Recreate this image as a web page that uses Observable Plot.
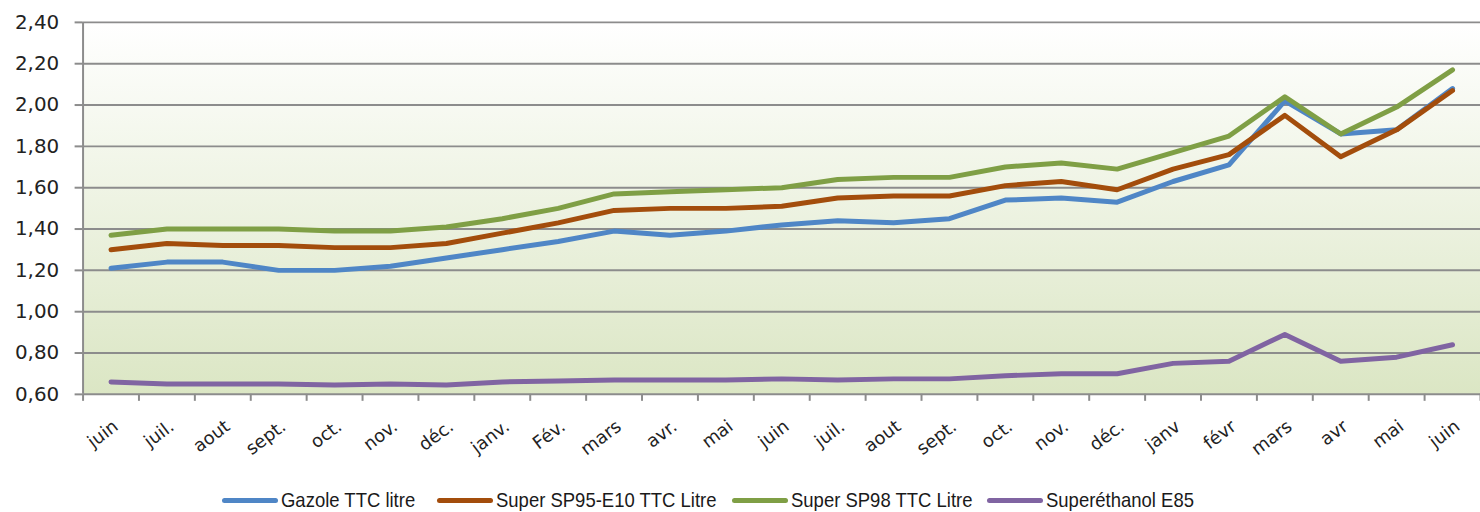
<!DOCTYPE html>
<html>
<head>
<meta charset="utf-8">
<script src="https://cdn.jsdelivr.net/npm/d3@7"></script>
<script src="https://cdn.jsdelivr.net/npm/@observablehq/plot@0.6"></script>
<style>
  html, body { margin: 0; padding: 0; background: #fff; overflow: hidden; }
  #wrap { position: relative; width: 1480px; height: 512px; overflow: hidden; }
  #legend { position: absolute; top: 488px; left: 0; width: 1480px; height: 24px; font-family: "Liberation Sans", sans-serif; font-size: 21px; color: #1a1a1a; }
  .item { position: absolute; top: 0; display: flex; align-items: center; height: 24px; white-space: nowrap; }
  .sw { width: 56px; height: 5px; border-radius: 3px; margin-right: 3px; flex: none; }
  .tx { display: inline-block; transform: scaleX(0.88); transform-origin: left center; }
</style>
</head>
<body>
<div id="wrap"><div id="chart"></div><div id="legend"></div></div>
<script>
const months = ["juin","juil.","aout","sept.","oct.","nov.","déc.","janv.","Fév.","mars","avr.","mai","juin","juil.","aout","sept.","oct.","nov.","déc.","janv","févr","mars","avr","mai","juin"];
const gazole = [1.21,1.24,1.24,1.20,1.20,1.22,1.26,1.30,1.34,1.39,1.37,1.39,1.42,1.44,1.43,1.45,1.54,1.55,1.53,1.63,1.71,2.02,1.86,1.88,2.08];
const sp95   = [1.30,1.33,1.32,1.32,1.31,1.31,1.33,1.38,1.43,1.49,1.50,1.50,1.51,1.55,1.56,1.56,1.61,1.63,1.59,1.69,1.76,1.95,1.75,1.88,2.07];
const sp98   = [1.37,1.40,1.40,1.40,1.39,1.39,1.41,1.45,1.50,1.57,1.58,1.59,1.60,1.64,1.65,1.65,1.70,1.72,1.69,1.77,1.85,2.04,1.86,1.99,2.17];
const e85    = [0.66,0.65,0.65,0.65,0.645,0.65,0.645,0.66,0.665,0.67,0.67,0.67,0.675,0.67,0.675,0.675,0.69,0.70,0.70,0.75,0.76,0.89,0.76,0.78,0.84];
const seriesNames = ["Gazole TTC litre","Super SP95-E10 TTC Litre","Super SP98 TTC Litre","Superéthanol E85"];
const seriesColors = ["#4F86C6","#A34D0C","#7F9F45","#8064A2"];
const yTicks = [0.6,0.8,1.0,1.2,1.4,1.6,1.8,2.0,2.2,2.4];

const allSeries = [gazole, sp95, sp98, e85];
const rows = allSeries.flatMap((vals, s) => vals.map((v, i) => ({i, v, s: seriesNames[s]})));
const idx = months.map((_, i) => i);
const bounds = d3.range(months.length + 1).map(i => i - 0.5);

const grid = "#8c8c8c";
const plot = Plot.plot({
  width: 1488,
  height: 470,
  marginLeft: 83,
  marginRight: 0,
  marginTop: 22,
  marginBottom: 74,
  x: {type: "linear", domain: [-0.5, months.length - 0.5], axis: null},
  y: {domain: [0.6, 2.4], axis: null},
  color: {domain: seriesNames, range: seriesColors},
  style: {fontFamily: "DejaVu Sans, sans-serif", background: "transparent"},
  marks: [
    Plot.frame({fill: "url(#bggrad)"}),
    Plot.gridY(yTicks, {stroke: grid, strokeOpacity: 1, strokeWidth: 2}),
    Plot.axisY(yTicks, {label: null, tickSize: 8, tickPadding: 16, stroke: grid, strokeWidth: 2, fontSize: 20, fill: "#222", tickFormat: d => d.toFixed(2).replace(".", ",")}),
    Plot.ruleX([-0.5], {stroke: grid, strokeWidth: 2}),
    Plot.axisX(bounds, {label: null, tickSize: 7, stroke: grid, strokeWidth: 2, tickFormat: () => ""}),
    Plot.text(idx, {x: d => d, y: () => 0.6, text: d => months[d], rotate: -37, textAnchor: "end", lineAnchor: "middle", dy: 30, dx: 5, fontSize: 18, fill: "#222"}),
    Plot.line(rows, {x: "i", y: "v", z: "s", stroke: "s", strokeWidth: 5, strokeLinejoin: "round", strokeLinecap: "round"})
  ]
});

const svg = d3.select(plot);
const defs = svg.insert("defs", ":first-child");
const g = defs.append("linearGradient").attr("id", "bggrad").attr("x1", 0).attr("y1", 0).attr("x2", 0).attr("y2", 1);
g.append("stop").attr("offset", "0%").attr("stop-color", "#ffffff");
g.append("stop").attr("offset", "100%").attr("stop-color", "#dbe6c4");
document.getElementById("chart").appendChild(plot);

const lefts = [222, 437, 732, 987];
const legend = document.getElementById("legend");
seriesNames.forEach((name, k) => {
  const it = document.createElement("div");
  it.className = "item";
  it.style.left = lefts[k] + "px";
  const sw = document.createElement("span");
  sw.className = "sw";
  sw.style.background = seriesColors[k];
  const tx = document.createElement("span");
  tx.className = "tx";
  tx.textContent = name;
  it.appendChild(sw); it.appendChild(tx);
  legend.appendChild(it);
});
</script>
</body>
</html>
